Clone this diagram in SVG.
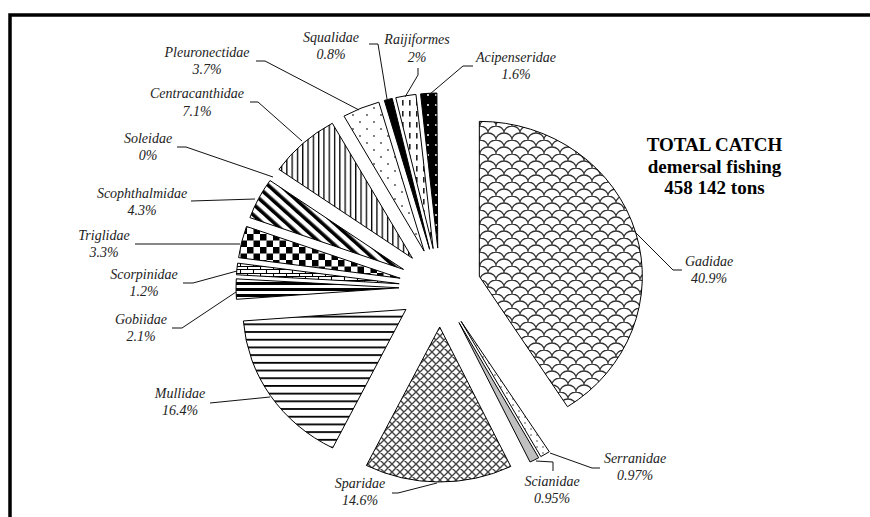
<svg xmlns="http://www.w3.org/2000/svg" width="870" height="517" viewBox="0 0 870 517">
<style>
.s{stroke:#000;stroke-width:1;stroke-linejoin:miter}
.ld{fill:none;stroke:#111;stroke-width:1}
.lb{font-family:"Liberation Serif","Times New Roman",serif;font-style:italic;font-size:14px;fill:#222;text-anchor:middle}
.tt{font-family:"Liberation Serif","Times New Roman",serif;font-weight:bold;font-size:19px;fill:#000;text-anchor:middle}
</style>
<defs>
<pattern id="pGad" width="16" height="14" patternUnits="userSpaceOnUse">
<rect width="16" height="14" fill="#fff"/>
<path d="M0,14 A8,7 0 0 1 16,14 M-8,7 A8,7 0 0 1 8,7 A8,7 0 0 1 24,7 M0,0 A8,7 0 0 1 16,0" fill="none" stroke="#333" stroke-width="1.3"/>
</pattern>
<pattern id="pSer" width="6" height="6" patternUnits="userSpaceOnUse">
<rect width="6" height="6" fill="#fff"/><circle cx="3" cy="3" r="0.8" fill="#444"/>
</pattern>
<pattern id="pSpa" width="8" height="8" patternUnits="userSpaceOnUse">
<rect width="8" height="8" fill="#fff"/>
<path d="M0,0 L8,8 M8,0 L0,8 M-1,7 L1,9 M7,-1 L9,1 M-1,1 L1,-1 M7,9 L9,7" stroke="#444" stroke-width="1.4"/>
</pattern>
<pattern id="pMul" width="8" height="7.7" patternUnits="userSpaceOnUse">
<rect width="8" height="7.7" fill="#fff"/><rect y="0" width="8" height="1.8" fill="#000"/>
</pattern>
<pattern id="pGob" width="8" height="6" patternUnits="userSpaceOnUse">
<rect width="8" height="6" fill="#fff"/><rect y="0" width="8" height="3" fill="#000"/>
</pattern>
<pattern id="pSco" width="13" height="7" patternUnits="userSpaceOnUse">
<rect width="13" height="7" fill="#fff"/>
<path d="M0,0.5 H13 M0,3.5 H13 M0.5,0.5 V3.5 M6.5,3.5 V7" stroke="#000" stroke-width="1.1"/>
</pattern>
<pattern id="pTri" width="13" height="13" patternUnits="userSpaceOnUse">
<rect width="13" height="13" fill="#fff"/>
<rect width="6.5" height="6.5" fill="#000"/><rect x="6.5" y="6.5" width="6.5" height="6.5" fill="#000"/>
</pattern>
<pattern id="pScp" width="8" height="8" patternUnits="userSpaceOnUse" patternTransform="rotate(-48)">
<rect width="8" height="8" fill="#fff"/><rect width="3.6" height="8" fill="#000"/>
</pattern>
<pattern id="pCen" width="5.3" height="8" patternUnits="userSpaceOnUse">
<rect width="5.3" height="8" fill="#fff"/><rect width="1.3" height="8" fill="#000"/>
</pattern>
<pattern id="pPle" width="14" height="14" patternUnits="userSpaceOnUse">
<rect width="14" height="14" fill="#fff"/>
<circle cx="3" cy="3" r="0.9" fill="#444"/><circle cx="10" cy="10" r="0.9" fill="#444"/>
</pattern>
<pattern id="pRai" width="7" height="11" patternUnits="userSpaceOnUse">
<rect width="7" height="11" fill="#fff"/><rect x="3" y="1" width="1.6" height="5.5" fill="#222"/>
</pattern>
<pattern id="pAci" width="8" height="10" patternUnits="userSpaceOnUse">
<rect width="8" height="10" fill="#000"/><circle cx="4" cy="5" r="1" fill="#fff"/>
</pattern>
</defs>
<rect width="870" height="517" fill="#fff"/>
<path d="M10,517 V15 H870" fill="none" stroke="#000" stroke-width="3.5"/>

<g id="slices">
<g id="gadidae"><path class="s" fill="url(#pGad)" d="M479.34,276.36 L479.34,121.36 A163,155 0 0 1 567.52,406.72 Z"/></g>
<g id="serranidae"><path class="s" fill="url(#pSer)" d="M461.12,321.36 L549.30,451.72 A163,155 0 0 1 540.81,456.57 Z"/></g>
<g id="scianidae"><path class="s" fill="#c0c0c0" d="M458.97,322.52 L538.66,457.73 A163,155 0 0 1 530.04,462.00 Z"/></g>
<g id="sparidae"><path class="s" fill="url(#pSpa)" d="M439.69,327.00 L510.76,466.48 A163,155 0 0 1 366.42,465.46 Z"/></g>
<g id="mullidae"><path class="s" fill="url(#pMul)" d="M405.92,309.46 L332.65,447.92 A163,155 0 0 1 243.37,320.94 Z"/></g>
<g id="gobiidae"><path class="s" fill="url(#pGob)" d="M399.00,287.82 L236.45,299.30 A163,155 0 0 1 236.27,278.87 Z"/></g>
<g id="scorpinidae"><path class="s" fill="url(#pSco)" d="M399.19,283.73 L236.46,274.78 A163,155 0 0 1 237.63,263.14 Z"/></g>
<g id="triglidae"><path class="s" fill="url(#pTri)" d="M400.14,278.23 L238.58,257.64 A163,155 0 0 1 246.50,226.46 Z"/></g>
<g id="scophthalmidae"><path class="s" fill="url(#pScp)" d="M403.55,269.41 L249.91,217.64 A163,155 0 0 1 270.02,180.52 Z"/></g>
<g id="centracanthidae"><path class="s" fill="url(#pCen)" d="M412.44,258.25 L278.91,169.36 A163,155 0 0 1 332.30,123.28 Z"/></g>
<g id="pleuronectidae"><path class="s" fill="url(#pPle)" d="M424.12,251.08 L343.98,116.11 A163,155 0 0 1 378.84,102.18 Z"/></g>
<g id="squalidae"><path class="s" fill="#000" d="M429.60,249.29 L384.32,100.39 A163,155 0 0 1 392.24,98.41 Z"/></g>
<g id="raijiformes"><path class="s" fill="url(#pRai)" d="M433.13,248.56 L395.77,97.68 A163,155 0 0 1 415.96,94.42 Z"/></g>
<g id="acipenseridae"><path class="s" fill="url(#pAci)" d="M437.73,248.06 L420.56,93.92 A163,155 0 0 1 436.91,93.06 Z"/></g>
</g>

<g id="connectors">
<polyline class="ld" points="682,270 673,270 635,232"/>
<polyline class="ld" points="256,61 265,61 359,110"/>
<polyline class="ld" points="250,102 258,102 302,141"/>
<polyline class="ld" points="177,147 186,147 273,177"/>
<polyline class="ld" points="191,201 255,199"/>
<polyline class="ld" points="135,244 240,244"/>
<polyline class="ld" points="183,283 193,283 237,271"/>
<polyline class="ld" points="172,328 182,328 236,292"/>
<polyline class="ld" points="210,403 270,397"/>
<polyline class="ld" points="392,493 398,493 437,483"/>
<polyline class="ld" points="536,461 553,462 553,471"/>
<polyline class="ld" points="600,468 592,468 550,453"/>
<polyline class="ld" points="369,44 378,44 387,99"/>
<polyline class="ld" points="418,68 418,75 405,97"/>
<polyline class="ld" points="473,66 463,66 430,94"/>
</g>

<g id="labels">
<g id="lbl-gadidae"><text class="lb" x="709" y="266">Gadidae</text><text class="lb" x="709" y="283">40.9%</text></g>
<g id="lbl-serranidae"><text class="lb" x="635" y="463">Serranidae</text><text class="lb" x="635" y="480">0.97%</text></g>
<g id="lbl-scianidae"><text class="lb" x="552" y="486">Scianidae</text><text class="lb" x="552" y="503">0.95%</text></g>
<g id="lbl-sparidae"><text class="lb" x="360" y="488">Sparidae</text><text class="lb" x="360" y="505">14.6%</text></g>
<g id="lbl-mullidae"><text class="lb" x="180" y="398">Mullidae</text><text class="lb" x="180" y="415">16.4%</text></g>
<g id="lbl-gobiidae"><text class="lb" x="141" y="324">Gobiidae</text><text class="lb" x="141" y="341">2.1%</text></g>
<g id="lbl-scorpinidae"><text class="lb" x="144" y="279">Scorpinidae</text><text class="lb" x="144" y="296">1.2%</text></g>
<g id="lbl-triglidae"><text class="lb" x="104" y="240">Triglidae</text><text class="lb" x="104" y="257">3.3%</text></g>
<g id="lbl-scophthalmidae"><text class="lb" x="142" y="198">Scophthalmidae</text><text class="lb" x="142" y="215">4.3%</text></g>
<g id="lbl-soleidae"><text class="lb" x="148" y="143">Soleidae</text><text class="lb" x="148" y="160">0%</text></g>
<g id="lbl-centracanthidae"><text class="lb" x="197" y="98">Centracanthidae</text><text class="lb" x="197" y="116">7.1%</text></g>
<g id="lbl-pleuronectidae"><text class="lb" x="207" y="57">Pleuronectidae</text><text class="lb" x="207" y="74">3.7%</text></g>
<g id="lbl-squalidae"><text class="lb" x="331" y="42">Squalidae</text><text class="lb" x="331" y="59">0.8%</text></g>
<g id="lbl-raijiformes"><text class="lb" x="417" y="44">Raijiformes</text><text class="lb" x="417" y="62">2%</text></g>
<g id="lbl-acipenseridae"><text class="lb" x="516" y="62">Acipenseridae</text><text class="lb" x="516" y="79">1.6%</text></g>
</g>

<g id="title">
<text class="tt" x="714.5" y="151">TOTAL CATCH</text>
<text class="tt" x="714.5" y="173">demersal fishing</text>
<text class="tt" x="714.5" y="194">458 142 tons</text>
</g>
</svg>
